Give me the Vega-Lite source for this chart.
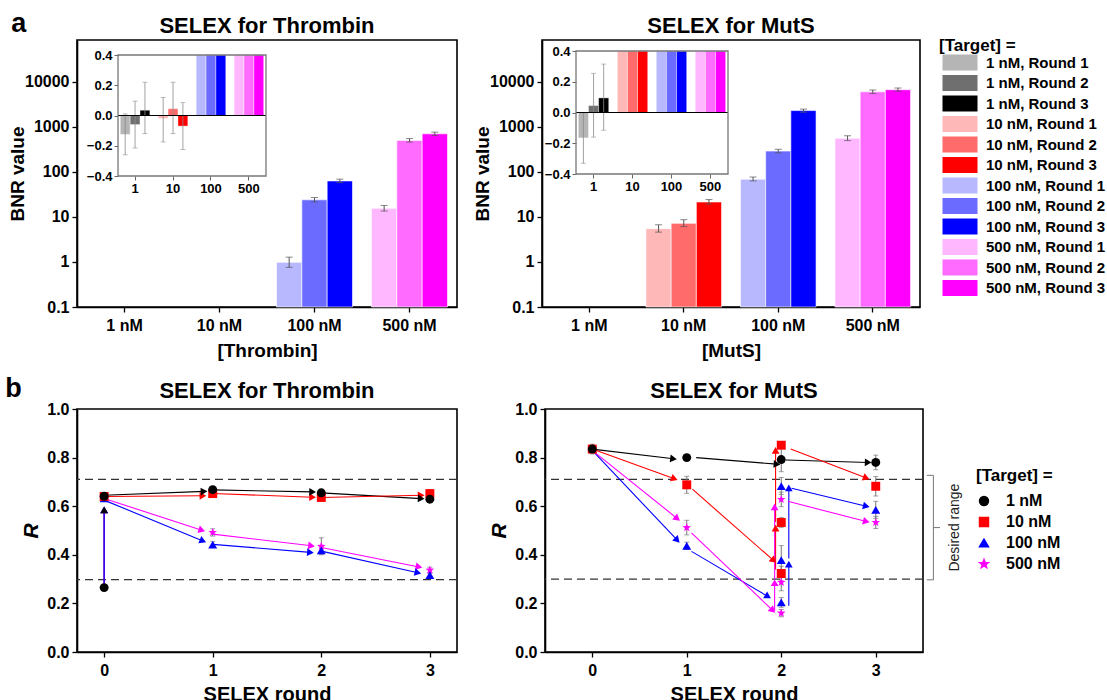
{
  "$schema": "https://vega.github.io/schema/vega-lite/v6.json",
  "padding": {"left": 5, "top": 10, "right": 0, "bottom": 0},
  "spacing": 14,
  "datasets": {
    "bnr": [
      {"p":"Thrombin","c":"1 nM","r":"Round 1","k":"1 nM, Round 1","v":-0.125,"lo":-0.26,"hi":0.01},
      {"p":"Thrombin","c":"1 nM","r":"Round 2","k":"1 nM, Round 2","v":-0.06,"lo":-0.215,"hi":0.095},
      {"p":"Thrombin","c":"1 nM","r":"Round 3","k":"1 nM, Round 3","v":0.035,"lo":-0.12,"hi":0.22},
      {"p":"Thrombin","c":"10 nM","r":"Round 1","k":"10 nM, Round 1","v":-0.02,"lo":-0.175,"hi":0.12},
      {"p":"Thrombin","c":"10 nM","r":"Round 2","k":"10 nM, Round 2","v":0.045,"lo":-0.12,"hi":0.22},
      {"p":"Thrombin","c":"10 nM","r":"Round 3","k":"10 nM, Round 3","v":-0.07,"lo":-0.225,"hi":0.085},
      {"p":"Thrombin","c":"100 nM","r":"Round 1","k":"100 nM, Round 1","v":0.98,"lo":0.76,"hi":1.28},
      {"p":"Thrombin","c":"100 nM","r":"Round 2","k":"100 nM, Round 2","v":24,"lo":21.5,"hi":27},
      {"p":"Thrombin","c":"100 nM","r":"Round 3","k":"100 nM, Round 3","v":63,"lo":58,"hi":69},
      {"p":"Thrombin","c":"500 nM","r":"Round 1","k":"500 nM, Round 1","v":15.5,"lo":13.5,"hi":18},
      {"p":"Thrombin","c":"500 nM","r":"Round 2","k":"500 nM, Round 2","v":500,"lo":460,"hi":550},
      {"p":"Thrombin","c":"500 nM","r":"Round 3","k":"500 nM, Round 3","v":700,"lo":645,"hi":765},
      {"p":"MutS","c":"1 nM","r":"Round 1","k":"1 nM, Round 1","v":-0.165,"lo":-0.33,"hi":0.0},
      {"p":"MutS","c":"1 nM","r":"Round 2","k":"1 nM, Round 2","v":0.045,"lo":-0.16,"hi":0.255},
      {"p":"MutS","c":"1 nM","r":"Round 3","k":"1 nM, Round 3","v":0.095,"lo":-0.115,"hi":0.315},
      {"p":"MutS","c":"10 nM","r":"Round 1","k":"10 nM, Round 1","v":5.5,"lo":4.6,"hi":6.7},
      {"p":"MutS","c":"10 nM","r":"Round 2","k":"10 nM, Round 2","v":7.2,"lo":6.1,"hi":8.7},
      {"p":"MutS","c":"10 nM","r":"Round 3","k":"10 nM, Round 3","v":21.5,"lo":19.3,"hi":24.3},
      {"p":"MutS","c":"100 nM","r":"Round 1","k":"100 nM, Round 1","v":69,"lo":63,"hi":77},
      {"p":"MutS","c":"100 nM","r":"Round 2","k":"100 nM, Round 2","v":290,"lo":265,"hi":318},
      {"p":"MutS","c":"100 nM","r":"Round 3","k":"100 nM, Round 3","v":2300,"lo":2120,"hi":2480},
      {"p":"MutS","c":"500 nM","r":"Round 1","k":"500 nM, Round 1","v":560,"lo":495,"hi":635},
      {"p":"MutS","c":"500 nM","r":"Round 2","k":"500 nM, Round 2","v":6000,"lo":5500,"hi":6600},
      {"p":"MutS","c":"500 nM","r":"Round 3","k":"500 nM, Round 3","v":6700,"lo":6200,"hi":7300}
    ],
    "rp": [
      {"p":"Thrombin","t":"500 nM","x":0,"R":0.265,"e":0.01},
      {"p":"Thrombin","t":"500 nM","x":0,"R":0.636,"e":0.01},
      {"p":"Thrombin","t":"500 nM","x":1,"R":0.492,"e":0.015},
      {"p":"Thrombin","t":"500 nM","x":2,"R":0.435,"e":0.035},
      {"p":"Thrombin","t":"500 nM","x":3,"R":0.337,"e":0.012},
      {"p":"Thrombin","t":"100 nM","x":0,"R":0.632,"e":0.01},
      {"p":"Thrombin","t":"100 nM","x":1,"R":0.442,"e":0.012},
      {"p":"Thrombin","t":"100 nM","x":2,"R":0.418,"e":0.015},
      {"p":"Thrombin","t":"100 nM","x":3,"R":0.316,"e":0.01},
      {"p":"Thrombin","t":"10 nM","x":0,"R":0.64,"e":0.01},
      {"p":"Thrombin","t":"10 nM","x":1,"R":0.652,"e":0.01},
      {"p":"Thrombin","t":"10 nM","x":2,"R":0.636,"e":0.01},
      {"p":"Thrombin","t":"10 nM","x":3,"R":0.652,"e":0.012},
      {"p":"Thrombin","t":"1 nM","x":0,"R":0.265,"e":0.012},
      {"p":"Thrombin","t":"1 nM","x":0,"R":0.641,"e":0.01},
      {"p":"Thrombin","t":"1 nM","x":1,"R":0.668,"e":0.008},
      {"p":"Thrombin","t":"1 nM","x":2,"R":0.655,"e":0.01},
      {"p":"Thrombin","t":"1 nM","x":3,"R":0.629,"e":0.01},
      {"p":"MutS","t":"500 nM","x":0,"R":0.835,"e":0.01},
      {"p":"MutS","t":"500 nM","x":1,"R":0.512,"e":0.03},
      {"p":"MutS","t":"500 nM","x":2,"R":0.16,"e":0.015},
      {"p":"MutS","t":"500 nM","x":2,"R":0.287,"e":0.035},
      {"p":"MutS","t":"500 nM","x":2,"R":0.628,"e":0.03},
      {"p":"MutS","t":"500 nM","x":3,"R":0.533,"e":0.025},
      {"p":"MutS","t":"100 nM","x":0,"R":0.835,"e":0.01},
      {"p":"MutS","t":"100 nM","x":1,"R":0.437,"e":0.015},
      {"p":"MutS","t":"100 nM","x":2,"R":0.204,"e":0.02},
      {"p":"MutS","t":"100 nM","x":2,"R":0.378,"e":0.06},
      {"p":"MutS","t":"100 nM","x":2,"R":0.683,"e":0.035},
      {"p":"MutS","t":"100 nM","x":3,"R":0.585,"e":0.035},
      {"p":"MutS","t":"10 nM","x":0,"R":0.835,"e":0.01},
      {"p":"MutS","t":"10 nM","x":1,"R":0.688,"e":0.035},
      {"p":"MutS","t":"10 nM","x":2,"R":0.323,"e":0.03},
      {"p":"MutS","t":"10 nM","x":2,"R":0.533,"e":0.02},
      {"p":"MutS","t":"10 nM","x":2,"R":0.851,"e":0.012},
      {"p":"MutS","t":"10 nM","x":3,"R":0.682,"e":0.04},
      {"p":"MutS","t":"1 nM","x":0,"R":0.835,"e":0.02},
      {"p":"MutS","t":"1 nM","x":1,"R":0.8,"e":0.01},
      {"p":"MutS","t":"1 nM","x":2,"R":0.792,"e":0.05},
      {"p":"MutS","t":"1 nM","x":3,"R":0.78,"e":0.03}
    ],
    "ar": [
      {"p":"Thrombin","t":"1 nM","xa":0,"ya":0.265,"xb":0,"yb":0.585},
      {"p":"Thrombin","t":"500 nM","xa":0,"ya":0.265,"xb":0,"yb":0.585},
      {"p":"Thrombin","t":"100 nM","xa":0,"ya":0.265,"xb":0,"yb":0.585},
      {"p":"Thrombin","t":"1 nM","xa":0,"ya":0.645,"xb":0.92,"yb":0.661},
      {"p":"Thrombin","t":"1 nM","xa":1,"ya":0.667,"xb":1.92,"yb":0.659},
      {"p":"Thrombin","t":"1 nM","xa":2,"ya":0.655,"xb":2.92,"yb":0.631},
      {"p":"Thrombin","t":"10 nM","xa":0,"ya":0.64,"xb":0.91,"yb":0.643},
      {"p":"Thrombin","t":"10 nM","xa":1,"ya":0.652,"xb":1.92,"yb":0.637},
      {"p":"Thrombin","t":"10 nM","xa":2,"ya":0.636,"xb":2.92,"yb":0.645},
      {"p":"Thrombin","t":"100 nM","xa":0,"ya":0.625,"xb":0.91,"yb":0.457},
      {"p":"Thrombin","t":"100 nM","xa":1,"ya":0.443,"xb":1.9,"yb":0.41},
      {"p":"Thrombin","t":"100 nM","xa":2,"ya":0.415,"xb":2.89,"yb":0.326},
      {"p":"Thrombin","t":"500 nM","xa":0,"ya":0.632,"xb":0.9,"yb":0.501},
      {"p":"Thrombin","t":"500 nM","xa":1,"ya":0.485,"xb":1.91,"yb":0.437},
      {"p":"Thrombin","t":"500 nM","xa":2,"ya":0.43,"xb":2.9,"yb":0.35},
      {"p":"MutS","t":"1 nM","xa":0,"ya":0.835,"xb":0.86,"yb":0.795},
      {"p":"MutS","t":"1 nM","xa":1.1,"ya":0.8,"xb":1.955,"yb":0.773},
      {"p":"MutS","t":"1 nM","xa":2.05,"ya":0.79,"xb":2.92,"yb":0.78},
      {"p":"MutS","t":"10 nM","xa":0,"ya":0.835,"xb":0.87,"yb":0.713},
      {"p":"MutS","t":"10 nM","xa":1.06,"ya":0.67,"xb":1.92,"yb":0.376},
      {"p":"MutS","t":"10 nM","xa":1.94,"ya":0.34,"xb":1.94,"yb":0.51},
      {"p":"MutS","t":"10 nM","xa":1.94,"ya":0.535,"xb":1.94,"yb":0.83},
      {"p":"MutS","t":"10 nM","xa":2.1,"ya":0.835,"xb":2.9,"yb":0.716},
      {"p":"MutS","t":"100 nM","xa":0,"ya":0.83,"xb":0.9,"yb":0.46},
      {"p":"MutS","t":"100 nM","xa":1.05,"ya":0.414,"xb":1.86,"yb":0.228},
      {"p":"MutS","t":"100 nM","xa":2.08,"ya":0.19,"xb":2.08,"yb":0.362},
      {"p":"MutS","t":"100 nM","xa":2.08,"ya":0.385,"xb":2.08,"yb":0.675},
      {"p":"MutS","t":"100 nM","xa":2.11,"ya":0.674,"xb":2.9,"yb":0.6},
      {"p":"MutS","t":"500 nM","xa":0,"ya":0.83,"xb":0.9,"yb":0.549},
      {"p":"MutS","t":"500 nM","xa":1.05,"ya":0.49,"xb":1.91,"yb":0.171},
      {"p":"MutS","t":"500 nM","xa":1.93,"ya":0.17,"xb":1.93,"yb":0.285},
      {"p":"MutS","t":"500 nM","xa":1.93,"ya":0.3,"xb":1.93,"yb":0.597},
      {"p":"MutS","t":"500 nM","xa":2.07,"ya":0.62,"xb":2.9,"yb":0.537}
    ]
  },
  "resolve": {"scale": {"color": "independent", "shape": "independent", "size": "independent"}},
  "vconcat": [
    {
      "title": {"text": "a", "anchor": "start", "fontSize": 27, "offset": -24, "dx": 4, "frame": "bounds"},
      "spacing": 14,
      "hconcat": [
        {
          "width": 380, "height": 267,
          "title": {"text": "SELEX for Thrombin", "frame": "group", "offset": 2},
          "layer": [
            {
              "data": {"name": "bnr"},
              "transform": [{"filter": "datum.p == 'Thrombin' && datum.v >= 0.1"}],
              "encoding": {
                "x": {"field": "c", "type": "nominal", "sort": null, "scale": {"domain": ["1 nM","10 nM","100 nM","500 nM"], "paddingInner": 0.2, "paddingOuter": 0.1}, "axis": {"orient": "bottom", "title": "[Thrombin]", "labelAngle": 0, "labelPadding": 5, "titlePadding": 8}},
                "xOffset": {"field": "r", "type": "nominal", "sort": null, "scale": {"domain": ["Round 1","Round 2","Round 3"], "paddingInner": 0, "paddingOuter": 0}}
              },
              "layer": [
                {"mark": {"type": "bar", "stroke": "#ffffff", "strokeWidth": 0.6},
                 "encoding": {
                   "y": {"field": "v", "type": "quantitative", "scale": {"type": "log", "domain": [0.1, 85000], "nice": false, "clamp": true}, "axis": {"orient": "left", "title": "BNR value", "values": [0.1, 1, 10, 100, 1000, 10000], "format": "~g", "minExtent": 50, "maxExtent": 50, "titlePadding": 0}},
                   "color": {"field": "k", "type": "nominal",
                     "scale": {"domain": ["1 nM, Round 1","1 nM, Round 2","1 nM, Round 3","10 nM, Round 1","10 nM, Round 2","10 nM, Round 3","100 nM, Round 1","100 nM, Round 2","100 nM, Round 3","500 nM, Round 1","500 nM, Round 2","500 nM, Round 3"],
                               "range": ["#b5b5b5","#6f6f6f","#000000","#ffb8b8","#ff6b6b","#ff0000","#b8b8ff","#6b6bff","#0000ff","#ffb8ff","#ff6bff","#ff00ff"]},
                     "legend": {"title": "[Target] =", "orient": "none", "legendX": 862, "legendY": -2, "symbolType": "M-1,-2H7.75V2H-1Z", "symbolSize": 64, "symbolStrokeWidth": 0, "labelFontSize": 15, "titleFontSize": 17, "rowPadding": 3.5, "labelOffset": 32, "titlePadding": 0, "labelLimit": 200}}
                 }},
                {"mark": {"type": "rule", "color": "#555555", "strokeWidth": 1}, "encoding": {"y": {"field": "lo", "type": "quantitative"}, "y2": {"field": "hi"}}},
                {"mark": {"type": "tick", "color": "#555555", "size": 7, "thickness": 1, "orient": "horizontal"}, "encoding": {"y": {"field": "lo", "type": "quantitative"}}},
                {"mark": {"type": "tick", "color": "#555555", "size": 7, "thickness": 1, "orient": "horizontal"}, "encoding": {"y": {"field": "hi", "type": "quantitative"}}}
              ]
            },
            {
              "data": {"name": "bnr"},
              "transform": [{"filter": "datum.p == 'Thrombin'"}],
              "layer": [
                {
                  "encoding": {
                    "x": {"field": "c", "type": "nominal", "sort": null, "scale": {"domain": ["1 nM","10 nM","100 nM","500 nM"], "range": [41, 189], "paddingInner": 0.22, "paddingOuter": 0.06}, "axis": {"orient": "bottom", "offset": -131, "title": null, "labelAngle": 0, "labelExpr": "replace(datum.label, ' nM', '')", "labelFontSize": 13, "tickSize": 4, "tickColor": "#666666", "tickWidth": 1, "domain": false, "labelPadding": 2}},
                    "xOffset": {"field": "r", "type": "nominal", "sort": null, "scale": {"domain": ["Round 1","Round 2","Round 3"], "paddingInner": 0, "paddingOuter": 0}}
                  },
                  "layer": [
                    {"mark": {"type": "bar", "stroke": "#ffffff", "strokeWidth": 0.4},
                     "encoding": {
                       "y": {"field": "v", "type": "quantitative", "scale": {"domain": [-0.4, 0.4], "range": [136, 15], "clamp": true, "nice": false}, "axis": {"orient": "left", "offset": -41, "title": null, "values": [-0.4, -0.2, 0, 0.2, 0.4], "format": ".1f", "labelFontSize": 13, "tickSize": 4, "tickColor": "#666666", "tickWidth": 1, "domain": false, "labelPadding": 2}},
                       "color": {"field": "k", "type": "nominal"}
                     }},
                    {"transform": [{"filter": "datum.hi < 0.5"}], "mark": {"type": "rule", "color": "#8a8a8a", "strokeWidth": 0.8}, "encoding": {"y": {"field": "lo", "type": "quantitative"}, "y2": {"field": "hi"}}},
                    {"transform": [{"filter": "datum.hi < 0.5"}], "mark": {"type": "tick", "color": "#8a8a8a", "size": 5, "thickness": 0.8, "orient": "horizontal"}, "encoding": {"y": {"field": "lo", "type": "quantitative"}}},
                    {"transform": [{"filter": "datum.hi < 0.5"}], "mark": {"type": "tick", "color": "#8a8a8a", "size": 5, "thickness": 0.8, "orient": "horizontal"}, "encoding": {"y": {"field": "hi", "type": "quantitative"}}}
                  ]
                },
                {
                  "data": {"values": [{}]},
                  "encoding": {"x": {"datum": 0, "type": "quantitative", "scale": {"domain": [0, 1], "range": [41, 189]}, "axis": null}, "x2": {"datum": 1}},
                  "layer": [
                    {"mark": {"type": "rule", "color": "#000000", "strokeWidth": 1}, "encoding": {"y": {"datum": 0, "type": "quantitative"}}},
                    {"mark": {"type": "rect", "fillOpacity": 0, "stroke": "#777777", "strokeWidth": 1.3}, "encoding": {"y": {"datum": -0.4, "type": "quantitative"}, "y2": {"datum": 0.4}}}
                  ]
                }
              ],
              "resolve": {"scale": {"x": "independent"}}
            }
          ],
          "resolve": {"scale": {"x": "independent", "y": "independent", "xOffset": "independent"}}
        },
        {
          "width": 378, "height": 267,
          "title": {"text": "SELEX for MutS", "frame": "group", "offset": 2},
          "layer": [
            {
              "data": {"name": "bnr"},
              "transform": [{"filter": "datum.p == 'MutS' && datum.v >= 0.1"}],
              "encoding": {
                "x": {"field": "c", "type": "nominal", "sort": null, "scale": {"domain": ["1 nM","10 nM","100 nM","500 nM"], "paddingInner": 0.2, "paddingOuter": 0.1}, "axis": {"orient": "bottom", "title": "[MutS]", "labelAngle": 0, "labelPadding": 5, "titlePadding": 8}},
                "xOffset": {"field": "r", "type": "nominal", "sort": null, "scale": {"domain": ["Round 1","Round 2","Round 3"], "paddingInner": 0, "paddingOuter": 0}}
              },
              "layer": [
                {"mark": {"type": "bar", "stroke": "#ffffff", "strokeWidth": 0.6},
                 "encoding": {
                   "y": {"field": "v", "type": "quantitative", "scale": {"type": "log", "domain": [0.1, 85000], "nice": false, "clamp": true}, "axis": {"orient": "left", "title": "BNR value", "values": [0.1, 1, 10, 100, 1000, 10000], "format": "~g", "minExtent": 50, "maxExtent": 50, "titlePadding": 0}},
                   "color": {"field": "k", "type": "nominal"}
                 }},
                {"mark": {"type": "rule", "color": "#555555", "strokeWidth": 1}, "encoding": {"y": {"field": "lo", "type": "quantitative"}, "y2": {"field": "hi"}}},
                {"mark": {"type": "tick", "color": "#555555", "size": 7, "thickness": 1, "orient": "horizontal"}, "encoding": {"y": {"field": "lo", "type": "quantitative"}}},
                {"mark": {"type": "tick", "color": "#555555", "size": 7, "thickness": 1, "orient": "horizontal"}, "encoding": {"y": {"field": "hi", "type": "quantitative"}}}
              ]
            },
            {
              "data": {"name": "bnr"},
              "transform": [{"filter": "datum.p == 'MutS'"}],
              "layer": [
                {
                  "encoding": {
                    "x": {"field": "c", "type": "nominal", "sort": null, "scale": {"domain": ["1 nM","10 nM","100 nM","500 nM"], "range": [34, 186], "paddingInner": 0.22, "paddingOuter": 0.06}, "axis": {"orient": "bottom", "offset": -133, "title": null, "labelAngle": 0, "labelExpr": "replace(datum.label, ' nM', '')", "labelFontSize": 13, "tickSize": 4, "tickColor": "#666666", "tickWidth": 1, "domain": false, "labelPadding": 2}},
                    "xOffset": {"field": "r", "type": "nominal", "sort": null, "scale": {"domain": ["Round 1","Round 2","Round 3"], "paddingInner": 0, "paddingOuter": 0}}
                  },
                  "layer": [
                    {"mark": {"type": "bar", "stroke": "#ffffff", "strokeWidth": 0.4},
                     "encoding": {
                       "y": {"field": "v", "type": "quantitative", "scale": {"domain": [-0.4, 0.4], "range": [134, 11], "clamp": true, "nice": false}, "axis": {"orient": "left", "offset": -34, "title": null, "values": [-0.4, -0.2, 0, 0.2, 0.4], "format": ".1f", "labelFontSize": 13, "tickSize": 4, "tickColor": "#666666", "tickWidth": 1, "domain": false, "labelPadding": 2}},
                       "color": {"field": "k", "type": "nominal"}
                     }},
                    {"transform": [{"filter": "datum.hi < 0.5"}], "mark": {"type": "rule", "color": "#8a8a8a", "strokeWidth": 0.8}, "encoding": {"y": {"field": "lo", "type": "quantitative"}, "y2": {"field": "hi"}}},
                    {"transform": [{"filter": "datum.hi < 0.5"}], "mark": {"type": "tick", "color": "#8a8a8a", "size": 5, "thickness": 0.8, "orient": "horizontal"}, "encoding": {"y": {"field": "lo", "type": "quantitative"}}},
                    {"transform": [{"filter": "datum.hi < 0.5"}], "mark": {"type": "tick", "color": "#8a8a8a", "size": 5, "thickness": 0.8, "orient": "horizontal"}, "encoding": {"y": {"field": "hi", "type": "quantitative"}}}
                  ]
                },
                {
                  "data": {"values": [{}]},
                  "encoding": {"x": {"datum": 0, "type": "quantitative", "scale": {"domain": [0, 1], "range": [34, 186]}, "axis": null}, "x2": {"datum": 1}},
                  "layer": [
                    {"mark": {"type": "rule", "color": "#000000", "strokeWidth": 1}, "encoding": {"y": {"datum": 0, "type": "quantitative"}}},
                    {"mark": {"type": "rect", "fillOpacity": 0, "stroke": "#777777", "strokeWidth": 1.3}, "encoding": {"y": {"datum": -0.4, "type": "quantitative"}, "y2": {"datum": 0.4}}}
                  ]
                }
              ],
              "resolve": {"scale": {"x": "independent"}}
            }
          ],
          "resolve": {"scale": {"x": "independent", "y": "independent", "xOffset": "independent"}}
        }
      ]
    },
    {
      "title": {"text": "b", "anchor": "start", "fontSize": 27, "offset": -24, "dx": -14, "frame": "bounds"},
      "spacing": 28,
      "hconcat": [
        {
          "width": 380, "height": 243,
          "title": {"text": "SELEX for Thrombin", "frame": "group", "offset": -2},
          "layer": [
            {"data": {"values": [{"h": 0.71}, {"h": 0.298}]}, "mark": {"type": "rule", "strokeDash": [8, 5], "color": "#333333", "strokeWidth": 1.3}, "encoding": {"y": {"field": "h", "type": "quantitative", "scale": {"domain": [0, 1], "nice": false}}}},
            {"data": {"name": "ar"}, "transform": [{"filter": "datum.p == 'Thrombin'"}], "mark": {"type": "rule", "strokeWidth": 1.1},
             "encoding": {"x": {"field": "xa", "type": "quantitative", "scale": {"domain": [-0.25, 3.25], "nice": false, "zero": false}}, "x2": {"field": "xb"}, "y": {"field": "ya", "type": "quantitative", "scale": {"domain": [0, 1], "nice": false}}, "y2": {"field": "yb"},
                          "color": {"field": "t", "type": "nominal", "scale": {"domain": ["1 nM","10 nM","100 nM","500 nM"], "range": ["#000000","#ff0000","#0000ff","#ff00ff"]}}}},
            {"data": {"name": "ar"}, "transform": [{"filter": "datum.p == 'Thrombin'"}, {"calculate": "atan2(-(datum.yb - datum.ya) * 243, (datum.xb - datum.xa) * 108.6) * 180 / PI", "as": "ang"}],
             "mark": {"type": "point", "shape": "triangle-right", "filled": true, "size": 60, "opacity": 1, "strokeWidth": 0},
             "encoding": {"x": {"field": "xb", "type": "quantitative", "scale": {"domain": [-0.25, 3.25], "nice": false, "zero": false}}, "y": {"field": "yb", "type": "quantitative", "scale": {"domain": [0, 1], "nice": false}}, "angle": {"field": "ang", "type": "quantitative", "scale": null}, "color": {"field": "t", "type": "nominal"}, "order": {"field": "t", "sort": "descending"}}},
            {"data": {"name": "rp"}, "transform": [{"filter": "datum.p == 'Thrombin'"}],
             "mark": {"type": "errorbar", "color": "#777777", "thickness": 1, "ticks": {"size": 5}},
             "encoding": {"x": {"field": "x", "type": "quantitative", "scale": {"domain": [-0.25, 3.25], "nice": false, "zero": false}}, "y": {"field": "R", "type": "quantitative", "scale": {"domain": [0, 1], "nice": false}}, "yError": {"field": "e"}}},
            {"data": {"name": "rp"}, "transform": [{"filter": "datum.p == 'Thrombin'"}],
             "mark": {"type": "point", "filled": true, "opacity": 1, "strokeWidth": 0},
             "encoding": {
               "x": {"field": "x", "type": "quantitative", "scale": {"domain": [-0.25, 3.25], "nice": false, "zero": false}, "axis": {"title": "SELEX round", "values": [0, 1, 2, 3], "format": "d", "titleFontSize": 20, "labelPadding": 5, "titlePadding": 6}},
               "y": {"field": "R", "type": "quantitative", "scale": {"domain": [0, 1], "nice": false}, "axis": {"title": "R", "titleFontStyle": "italic", "titleFontSize": 21, "values": [0, 0.2, 0.4, 0.6, 0.8, 1], "format": ".1f", "minExtent": 50, "maxExtent": 50, "titlePadding": -14}},
               "color": {"field": "t", "type": "nominal", "legend": {"title": "[Target] =", "orient": "none", "legendX": 899, "legendY": 59, "labelFontSize": 16, "titleFontSize": 17, "symbolSize": 70, "rowPadding": 5, "labelOffset": 14, "titlePadding": 8}},
               "shape": {"field": "t", "type": "nominal", "scale": {"domain": ["1 nM","10 nM","100 nM","500 nM"], "range": ["circle","square","triangle-up","M0,-1L0.247,-0.34L0.951,-0.309L0.399,0.13L0.588,0.809L0,0.42L-0.588,0.809L-0.399,0.13L-0.951,-0.309L-0.247,-0.34Z"]}, "legend": {"title": "[Target] =", "orient": "none", "legendX": 899, "legendY": 59, "labelFontSize": 16, "titleFontSize": 17, "symbolSize": 70, "rowPadding": 5, "labelOffset": 14, "titlePadding": 8}},
               "size": {"field": "t", "type": "nominal", "scale": {"domain": ["1 nM","10 nM","100 nM","500 nM"], "range": [80, 80, 90, 170]}, "legend": null}
             }}
          ]
        },
        {
          "width": 378, "height": 243,
          "title": {"text": "SELEX for MutS", "frame": "group", "offset": -2},
          "layer": [
            {"data": {"values": [{"h": 0.71}, {"h": 0.3}]}, "mark": {"type": "rule", "strokeDash": [8, 5], "color": "#333333", "strokeWidth": 1.3}, "encoding": {"y": {"field": "h", "type": "quantitative", "scale": {"domain": [0, 1], "nice": false}}}},
            {"data": {"name": "ar"}, "transform": [{"filter": "datum.p == 'MutS'"}], "mark": {"type": "rule", "strokeWidth": 1.1},
             "encoding": {"x": {"field": "xa", "type": "quantitative", "scale": {"domain": [-0.5, 3.5], "nice": false, "zero": false}}, "x2": {"field": "xb"}, "y": {"field": "ya", "type": "quantitative", "scale": {"domain": [0, 1], "nice": false}}, "y2": {"field": "yb"},
                          "color": {"field": "t", "type": "nominal"}}},
            {"data": {"name": "ar"}, "transform": [{"filter": "datum.p == 'MutS'"}, {"calculate": "atan2(-(datum.yb - datum.ya) * 243, (datum.xb - datum.xa) * 94.5) * 180 / PI", "as": "ang"}],
             "mark": {"type": "point", "shape": "triangle-right", "filled": true, "size": 60, "opacity": 1, "strokeWidth": 0},
             "encoding": {"x": {"field": "xb", "type": "quantitative", "scale": {"domain": [-0.5, 3.5], "nice": false, "zero": false}}, "y": {"field": "yb", "type": "quantitative", "scale": {"domain": [0, 1], "nice": false}}, "angle": {"field": "ang", "type": "quantitative", "scale": null}, "color": {"field": "t", "type": "nominal"}, "order": {"field": "t", "sort": "descending"}}},
            {"data": {"name": "rp"}, "transform": [{"filter": "datum.p == 'MutS'"}],
             "mark": {"type": "errorbar", "color": "#777777", "thickness": 1, "ticks": {"size": 5}},
             "encoding": {"x": {"field": "x", "type": "quantitative", "scale": {"domain": [-0.5, 3.5], "nice": false, "zero": false}}, "y": {"field": "R", "type": "quantitative", "scale": {"domain": [0, 1], "nice": false}}, "yError": {"field": "e"}}},
            {"data": {"name": "rp"}, "transform": [{"filter": "datum.p == 'MutS'"}],
             "mark": {"type": "point", "filled": true, "opacity": 1, "strokeWidth": 0},
             "encoding": {
               "x": {"field": "x", "type": "quantitative", "scale": {"domain": [-0.5, 3.5], "nice": false, "zero": false}, "axis": {"title": "SELEX round", "values": [0, 1, 2, 3], "format": "d", "titleFontSize": 20, "labelPadding": 5, "titlePadding": 6}},
               "y": {"field": "R", "type": "quantitative", "scale": {"domain": [0, 1], "nice": false}, "axis": {"title": "R", "titleFontStyle": "italic", "titleFontSize": 21, "values": [0, 0.2, 0.4, 0.6, 0.8, 1], "format": ".1f", "minExtent": 50, "maxExtent": 50, "titlePadding": -14}},
               "color": {"field": "t", "type": "nominal"},
               "shape": {"field": "t", "type": "nominal"},
               "size": {"field": "t", "type": "nominal", "legend": null}
             }},
            {"data": {"values": [{}]}, "mark": {"type": "rule", "color": "#777777", "strokeWidth": 1}, "encoding": {"x": {"datum": 3.61, "type": "quantitative", "scale": {"domain": [-0.5, 3.5], "nice": false, "zero": false}}, "y": {"datum": 0.297, "type": "quantitative", "scale": {"domain": [0, 1], "nice": false}}, "y2": {"datum": 0.727}}},
            {"data": {"values": [{}]}, "mark": {"type": "rule", "color": "#777777", "strokeWidth": 1}, "encoding": {"x": {"datum": 3.54, "type": "quantitative", "scale": {"domain": [-0.5, 3.5], "nice": false, "zero": false}}, "x2": {"datum": 3.61}, "y": {"datum": 0.727, "type": "quantitative", "scale": {"domain": [0, 1], "nice": false}}}},
            {"data": {"values": [{}]}, "mark": {"type": "rule", "color": "#777777", "strokeWidth": 1}, "encoding": {"x": {"datum": 3.54, "type": "quantitative", "scale": {"domain": [-0.5, 3.5], "nice": false, "zero": false}}, "x2": {"datum": 3.61}, "y": {"datum": 0.297, "type": "quantitative", "scale": {"domain": [0, 1], "nice": false}}}},
            {"data": {"values": [{}]}, "mark": {"type": "rule", "color": "#777777", "strokeWidth": 1}, "encoding": {"x": {"datum": 3.61, "type": "quantitative", "scale": {"domain": [-0.5, 3.5], "nice": false, "zero": false}}, "x2": {"datum": 3.68}, "y": {"datum": 0.512, "type": "quantitative", "scale": {"domain": [0, 1], "nice": false}}}},
            {"data": {"values": [{}]}, "mark": {"type": "text", "text": "Desired range", "angle": 270, "fontSize": 14, "fontWeight": "normal", "color": "#222222", "font": "Liberation Sans"}, "encoding": {"x": {"datum": 3.84, "type": "quantitative", "scale": {"domain": [-0.5, 3.5], "nice": false, "zero": false}}, "y": {"datum": 0.512, "type": "quantitative", "scale": {"domain": [0, 1], "nice": false}}}}
          ]
        }
      ]
    }
  ],
  "config": {
    "font": "Liberation Sans",
    "view": {"stroke": "#000000", "strokeWidth": 1.6},
    "axis": {"labelFont": "Liberation Sans", "labelFontWeight": "bold", "labelFontSize": 16, "labelColor": "#000000", "titleFont": "Liberation Sans", "titleFontWeight": "bold", "titleFontSize": 19, "titleColor": "#000000", "domainColor": "#000000", "domainWidth": 1.6, "tickColor": "#000000", "tickWidth": 1.3, "tickSize": 5, "grid": false, "labelPadding": 3},
    "title": {"font": "Liberation Sans", "fontSize": 22, "fontWeight": "bold", "color": "#000000", "offset": 6},
    "legend": {"labelFont": "Liberation Sans", "labelFontWeight": "bold", "labelColor": "#000000", "titleFont": "Liberation Sans", "titleFontWeight": "bold", "titleColor": "#000000"}
  }
}
